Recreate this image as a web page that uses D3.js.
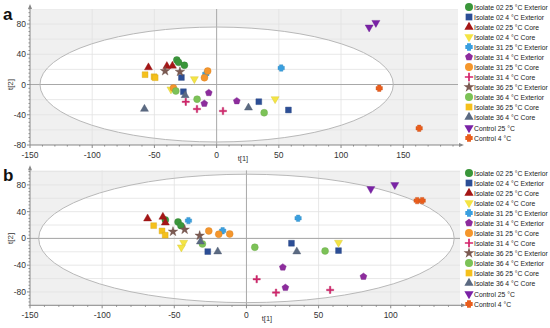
<!DOCTYPE html>
<html>
<head>
<meta charset="utf-8">
<script src="https://d3js.org/d3.v7.min.js"></script>
<style>
  body { margin: 0; background: #fff; }
  text { font-family: "Liberation Sans", Arial, sans-serif; }
</style>
</head>
<body>
<script>
// group names (legend order)
var groups = [
  "Isolate 02 25 °C Exterior", "Isolate 02 4 °C Exterior", "Isolate 02 25 °C Core", "Isolate 02 4 °C Core",
  "Isolate 31 25 °C Exterior", "Isolate 31 4 °C Exterior", "Isolate 31 25 °C Core", "Isolate 31 4 °C Core",
  "Isolate 36 25 °C Exterior", "Isolate 36 4 °C Exterior", "Isolate 36 25 °C Core", "Isolate 36 4 °C Core",
  "Control 25 °C", "Control 4 °C"
];

// panel a scores [t1, t2] per group
var scoresA = [
  [[-32, 32.4], [-30.6, 29.3], [-25.9, 25.4]],
  [[-28.3, 9.3], [-26.7, -9.5], [33.9, -22.7], [57.7, -33.7]],
  [[-54.8, 22.5], [-40, 24.2], [-35.5, 24.7]],
  [[-17.9, 7.3], [-36.7, -6.3], [47, -19.2]],
  [[-8.7, 13.9], [51.9, 21.8]],
  [[-6.3, -11], [-9.9, -25.1], [16.2, -21.8]],
  [[-7.2, 17.8], [-9.8, 9], [-34.7, -4.6]],
  [[-24.8, -22.9], [-15.8, -32.4], [5.1, -35]],
  [[-41.4, 17.8], [-29.5, 16.8]],
  [[-32.8, -8.6], [-15.7, -19.4], [38.2, -37.3]],
  [[-57.5, 13], [-50.3, 10.3], [-49.4, 9]],
  [[-58, -32.4], [-25.3, -14.3], [25.6, -30.7]],
  [[122.6, 75.6], [128, 81.7]],
  [[130.7, -5], [162.8, -57.9]]
];

// panel b scores
var scoresB = [
  [[-56.2, 27.7], [-47.4, 24.7], [-45.4, 19.1]],
  [[-26.8, -19.7], [31.2, -7.2], [63.8, -18.2]],
  [[-68.5, 29.6], [-57.9, 32.1], [-56.2, 23.6]],
  [[-43.5, -6.3], [-45.1, -13.2], [63.8, -6.3]],
  [[-40.2, 26.6], [-16.5, 11.5], [35.8, 30.2]],
  [[25.2, -43.1], [81.1, -57.1], [27, -73.6]],
  [[-26.1, 11.2], [-19.2, 6.3], [-11.6, 6.7]],
  [[7.1, -61], [20.5, -81], [58, -77]],
  [[-50.9, 10.2], [-42.8, 13.2], [-32.4, 4.2]],
  [[-30.5, -8.2], [5.8, -13.2], [54.5, -18.7]],
  [[-64.3, 19.1], [-58.5, 11.2], [-56.3, 4.8]],
  [[-31.9, -4.8], [-19.9, -19.7], [34.9, -19.7]],
  [[86.2, 74], [102.8, 80]],
  [[118.3, 56.5], [121.8, 56.5]]
];

var xTicks = [-150, -100, -50, 0, 50, 100, 150];
var yTicksA = [80, 40, 0, -40, -80];
var yTicksB = [80, 40, 0, -40, -80];

// Hotelling ellipse radii [t1, t2]
var ellipseA = [142, 76];
var ellipseB = [144, 96];

// marker styles
var colors = ["#3a963a", "#2c4e96", "#a51616", "#f4e444", "#3a9fdf", "#8d2c9d", "#f5962c",
  "#d4256c", "#7b5a52", "#7cc257", "#f5c01c", "#5b6a82", "#7a22a6", "#e95d1c"];

function pentagon(r) {
  var pts = d3.range(5).map(function (i) {
    var a = -Math.PI / 2 + i * 2 * Math.PI / 5;
    return [r * Math.cos(a), r * Math.sin(a)];
  });
  return "M" + pts.join("L") + "Z";
}
function plus(r, w) {
  return "M" + (-w) + "," + (-r) + "H" + w + "V" + (-w) + "H" + r + "V" + w + "H" + w + "V" + r +
    "H" + (-w) + "V" + w + "H" + (-r) + "V" + (-w) + "H" + (-w) + "Z";
}
function marker(i, k) {
  var s = k || 1;
  switch (i) {
    case 0: case 6: case 9: return d3.symbol(d3.symbolCircle, 38 * s * s)();
    case 1: case 10: return d3.symbol(d3.symbolSquare, 34 * s * s)();
    case 2: case 11: return d3.symbol(d3.symbolTriangle, 28 * s * s)();
    case 3: case 12: return d3.symbol(d3.symbolTriangle, 28 * s * s)();
    case 4: return plus(3.2 * s, 1.7 * s);
    case 5: return pentagon(3.6 * s);
    case 7: return plus(3.6 * s, 0.75 * s);
    case 8: return d3.symbol(d3.symbolStar, 28 * s * s)();
    case 13: return plus(3.2 * s, 1.7 * s);
  }
}
function rot(i) { return (i == 3 || i == 12) ? " rotate(180)" : ""; }

var svg = d3.select("body").append("svg").attr("width", 550).attr("height", 328);

function panel(opt) {
  var x = d3.scaleLinear().domain(opt.xd).range(opt.xr);
  var y = d3.scaleLinear().domain(opt.yd).range(opt.yr);
  var g = svg.append("g");
  var id = "clip" + opt.tag;
  g.append("clipPath").attr("id", id).append("rect")
    .attr("x", opt.xr[0]).attr("y", opt.yr[1])
    .attr("width", opt.xr[1] - opt.xr[0]).attr("height", opt.yr[0] - opt.yr[1]);
  var p = g.append("g").attr("clip-path", "url(#" + id + ")");

  // shading outside ellipse
  p.append("rect").attr("x", opt.xr[0]).attr("y", opt.yr[1])
    .attr("width", opt.xr[1] - opt.xr[0]).attr("height", opt.yr[0] - opt.yr[1])
    .attr("fill", "#f0f0f0");
  p.append("ellipse").attr("cx", x(0)).attr("cy", y(0))
    .attr("rx", x(opt.ell[0]) - x(0)).attr("ry", y(0) - y(opt.ell[1]))
    .attr("fill", "#fff");

  // grid
  p.selectAll(".hg").data(d3.range(-100, 101, 20)).enter().append("line")
    .attr("x1", opt.xr[0]).attr("x2", opt.xr[1])
    .attr("y1", function (d) { return y(d); }).attr("y2", function (d) { return y(d); })
    .attr("stroke", "#e2e2e2").attr("stroke-width", 0.8);
  p.selectAll(".vg").data([-100, -50, 50, 100, 150]).enter().append("line")
    .attr("y1", opt.yr[0]).attr("y2", opt.yr[1])
    .attr("x1", function (d) { return x(d); }).attr("x2", function (d) { return x(d); })
    .attr("stroke", "#e2e2e2").attr("stroke-width", 0.8);
  p.append("line").attr("x1", opt.xr[0]).attr("x2", opt.xr[1]).attr("y1", y(0)).attr("y2", y(0))
    .attr("stroke", "#a8a8a8").attr("stroke-width", 1);
  p.append("line").attr("x1", x(0)).attr("x2", x(0)).attr("y1", opt.yr[0]).attr("y2", opt.yr[1])
    .attr("stroke", "#a8a8a8").attr("stroke-width", 1);
  p.append("ellipse").attr("cx", x(0)).attr("cy", y(0))
    .attr("rx", x(opt.ell[0]) - x(0)).attr("ry", y(0) - y(opt.ell[1]))
    .attr("fill", "none").attr("stroke", "#b8b8b8").attr("stroke-width", 1);

  // points
  opt.scores.forEach(function (pts, i) {
    p.selectAll(".pt" + i).data(pts).enter().append("path")
      .attr("d", marker(i))
      .attr("transform", function (d) { return "translate(" + x(d[0]) + "," + y(d[1]) + ")" + rot(i); })
      .attr("fill", colors[i])
      .attr("stroke", d3.color(colors[i]).darker(0.4)).attr("stroke-width", 0.4);
  });

  // axes
  var ax = g.append("g").attr("stroke", "#888").attr("stroke-width", 1);
  ax.append("line").attr("x1", opt.xr[0]).attr("x2", opt.xr[1] + 4).attr("y1", opt.yr[0]).attr("y2", opt.yr[0]);
  ax.append("line").attr("x1", opt.xr[0]).attr("x2", opt.xr[0]).attr("y1", opt.yr[0]).attr("y2", opt.yr[1] - 3);
  g.append("path").attr("d", "M" + (opt.xr[1] + 6) + "," + opt.yr[0] + "l-5,-2v4z").attr("fill", "#888");
  g.append("path").attr("d", "M" + opt.xr[0] + "," + (opt.yr[1] - 5) + "l-2,5h4z").attr("fill", "#888");

  var xm = d3.range(-150, opt.xd[1], 10);
  ax.selectAll(".xm").data(xm).enter().append("line")
    .attr("x1", function (d) { return x(d); }).attr("x2", function (d) { return x(d); })
    .attr("y1", opt.yr[0]).attr("y2", function (d) { return opt.yr[0] + (d % 50 == 0 ? 3 : 1.5); });
  var ym = d3.range(opt.yd[0], opt.yd[1] + 1, 5);
  ax.selectAll(".ym").data(ym).enter().append("line")
    .attr("y1", function (d) { return y(d); }).attr("y2", function (d) { return y(d); })
    .attr("x1", opt.xr[0]).attr("x2", function (d) { return opt.xr[0] - (d % 40 == 0 ? 3 : 1.5); });

  g.selectAll(".xl").data(xTicks.filter(function (d) { return d <= opt.xd[1]; })).enter().append("text")
    .attr("x", function (d) { return x(d); }).attr("y", opt.yr[0] + 13)
    .attr("text-anchor", "middle").attr("font-size", 8.5).attr("fill", "#333")
    .text(function (d) { return d; });
  g.selectAll(".yl").data(opt.yt).enter().append("text")
    .attr("x", opt.xr[0] - 4).attr("y", function (d) { return y(d) + 3; })
    .attr("text-anchor", "end").attr("font-size", 8.5).attr("fill", "#333")
    .text(function (d) { return d; });

  g.append("text").attr("transform", "translate(13," + y(0) + ") rotate(-90)")
    .attr("text-anchor", "middle").attr("font-size", 8).attr("fill", "#333").text("t[2]");
  g.append("text").attr("x", opt.t1x).attr("y", opt.yr[0] + 16)
    .attr("text-anchor", "middle").attr("font-size", 7.5).attr("fill", "#333").text("t[1]");
  g.append("text").attr("x", 3).attr("y", opt.yr[1] + 11)
    .attr("font-size", 17).attr("font-weight", "bold").attr("fill", "#111").text(opt.tag);

  // legend
  var lg = g.append("g");
  groups.forEach(function (name, i) {
    var ly = opt.ly + i * 10 + (i >= 12 ? 1 : 0);
    lg.append("path").attr("d", marker(i, 1.15))
      .attr("transform", "translate(469," + ly + ")" + rot(i))
      .attr("fill", colors[i]);
    lg.append("text").attr("x", 474).attr("y", ly + 2.5)
      .attr("font-size", 6.8).attr("fill", "#222").text(name);
  });
}

panel({ tag: "a", xd: [-150, 194], xr: [30, 458], yd: [-80, 100], yr: [145, 8.9],
  ell: ellipseA, scores: scoresA, yt: yTicksA, t1x: 243, ly: 7 });
panel({ tag: "b", xd: [-150, 148], xr: [30, 460], yd: [-100, 102], yr: [305.3, 170.2],
  ell: ellipseB, scores: scoresB, yt: yTicksB, t1x: 267, ly: 173 });
</script>
</body>
</html>
